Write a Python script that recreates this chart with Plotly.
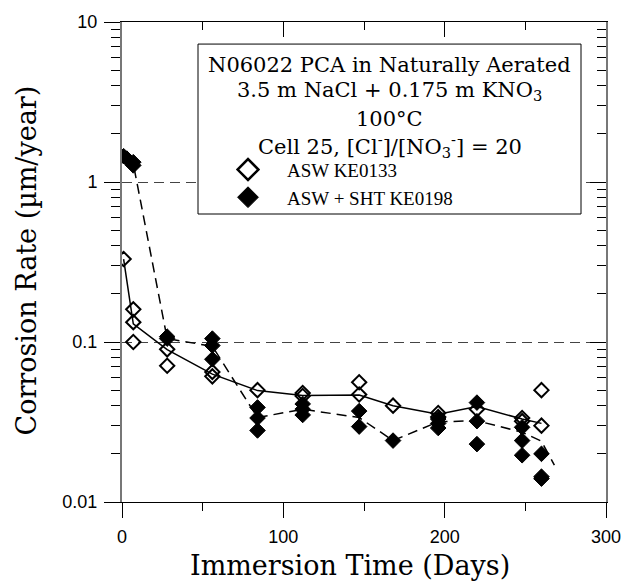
import plotly.graph_objects as go

# ---- data ----
open_days = [1, 7, 7, 7, 28, 28, 56, 56, 84, 112, 112, 147, 147, 168, 196, 196, 220, 248, 248, 260, 260]
open_vals = [0.33, 0.16, 0.133, 0.10, 0.090, 0.071, 0.065, 0.061, 0.050, 0.048, 0.046, 0.056, 0.047,
             0.040, 0.036, 0.034, 0.038, 0.0335, 0.032, 0.050, 0.030]

filled_days = [1, 3, 7, 7, 28, 28, 56, 56, 56, 84, 84, 84, 112, 112, 112, 147, 147, 168,
               196, 196, 196, 220, 220, 220, 248, 248, 248, 260, 260, 260]
filled_vals = [1.45, 1.40, 1.33, 1.27, 0.105, 0.108, 0.105, 0.095, 0.078, 0.039, 0.0335, 0.028,
               0.041, 0.038, 0.035, 0.037, 0.0296, 0.0242, 0.033, 0.031, 0.029, 0.0418, 0.032, 0.023,
               0.0293, 0.0242, 0.0196, 0.020, 0.0144, 0.014]

solid_days = [1, 7, 28, 56, 84, 112, 147, 168, 196, 220, 248, 260]
solid_vals = [0.33, 0.13, 0.0895, 0.063, 0.0497, 0.0463, 0.0466, 0.040, 0.0354, 0.0395, 0.033, 0.031]

dash_days = [1, 7, 28, 56, 84, 112, 147, 168, 196, 220, 248, 260, 268]
dash_vals = [1.42, 1.30, 0.105, 0.094, 0.0337, 0.038, 0.0337, 0.0242, 0.0317, 0.0322, 0.0273, 0.024, 0.017]

x_ticks = [0, 100, 200, 300]
x_minor = [50, 150, 250]
y_ticks = [0.01, 0.1, 1, 10]
y_ticktext = ["0.01", "0.1", "1", "10"]
y_minor = [m * d for d in (0.01, 0.1, 1) for m in range(2, 10)]

name_open = "ASW KE0133"
name_filled = "ASW + SHT KE0198"
x_title = "Immersion Time (Days)"
y_title = "Corrosion Rate (\u00b5m/year)"
box_lines = [
    "N06022 PCA in Naturally Aerated",
    "3.5 m NaCl + 0.175 m KNO<sub>3</sub>",
    "100°C",
    "Cell 25, [Cl<sup>-</sup>]/[NO<sub>3</sub><sup>-</sup>] = 20",
]

# plot area in pixels
L, R, T, B = 122, 606, 17, 502
W, H = R - L, B - T


def px_x(p):
    return (p - L) / W


def px_y(p):
    return 1 - (p - T) / H


fig = go.Figure()
fig.add_trace(go.Scatter(x=solid_days, y=solid_vals, mode="lines",
                         line=dict(color="black", width=1.5), showlegend=False))
fig.add_trace(go.Scatter(x=dash_days, y=dash_vals, mode="lines",
                         line=dict(color="black", width=1.5, dash="10px,6px"), showlegend=False))
fig.add_trace(go.Scatter(x=open_days, y=open_vals, mode="markers",
                         marker=dict(symbol="diamond-open", size=11, color="black",
                                     line=dict(width=2, color="black")), showlegend=False))
fig.add_trace(go.Scatter(x=filled_days, y=filled_vals, mode="markers",
                         marker=dict(symbol="diamond", size=12, color="black",
                                     line=dict(width=1, color="black")), showlegend=False))
# legend entries (on the mirror axes so those are drawn)
pad = "\u00a0" * 4
fig.add_trace(go.Scatter(x=[None], y=[None], mode="markers", name=pad + name_open,
                         xaxis="x2", yaxis="y2",
                         marker=dict(symbol="diamond-open", size=16, color="black",
                                     line=dict(width=2.5, color="black"))))
fig.add_trace(go.Scatter(x=[None], y=[None], mode="markers", name=pad + name_filled,
                         xaxis="x2", yaxis="y2",
                         marker=dict(symbol="diamond", size=16, color="black",
                                     line=dict(width=1, color="black"))))

tickfont = dict(family="Liberation Sans", size=18, color="black")
fig.update_layout(
    width=636, height=584,
    margin=dict(l=L, r=636 - R, t=T, b=584 - B),
    paper_bgcolor="white", plot_bgcolor="white",
    xaxis=dict(range=[0, 300], tickmode="array", tickvals=x_ticks, ticks="outside", ticklen=15,
               tickwidth=1, tickcolor="black", showline=True, linecolor="black", linewidth=1,
               showgrid=False, zeroline=False, tickfont=tickfont, ticklabelstandoff=3,
               minor=dict(tickmode="array", tickvals=x_minor, ticks="outside", ticklen=8,
                          tickcolor="black", showgrid=False)),
    xaxis2=dict(range=[0, 300], overlaying="x", side="top", tickmode="array", tickvals=x_ticks,
                ticks="inside", ticklen=15, tickcolor="black", showticklabels=False,
                showline=True, linecolor="black", linewidth=1, showgrid=False, zeroline=False,
                minor=dict(tickmode="array", tickvals=x_minor, ticks="inside", ticklen=8,
                           tickcolor="black", showgrid=False)),
    yaxis=dict(type="log", range=[-2, 1], tickmode="array", tickvals=y_ticks, ticktext=y_ticktext,
               ticks="outside", ticklen=16, tickwidth=1, tickcolor="black",
               showline=True, linecolor="#777777", linewidth=2,
               showgrid=True, gridcolor="#444444", gridwidth=1, griddash="10px,6px",
               zeroline=False, tickfont=tickfont, ticklabelstandoff=3,
               minor=dict(tickmode="array", tickvals=y_minor, ticks="outside", ticklen=9,
                          tickcolor="black", showgrid=False)),
    yaxis2=dict(type="log", range=[-2, 1], overlaying="y", side="right", tickmode="array",
                tickvals=y_ticks, ticks="inside", ticklen=16, tickcolor="black",
                showticklabels=False, showline=True, linecolor="#777777", linewidth=1.5,
                showgrid=False, zeroline=False,
                minor=dict(tickmode="array", tickvals=y_minor, ticks="inside", ticklen=9,
                           tickcolor="black", showgrid=False)),
    legend=dict(x=px_x(228), y=px_y(147), xanchor="left", yanchor="top",
                bgcolor="rgba(0,0,0,0)", borderwidth=0,
                font=dict(family="Liberation Serif", size=19, color="black"),
                tracegroupgap=0, itemsizing="trace"),
    showlegend=True,
)

# legend box
fig.add_shape(type="rect", xref="paper", yref="paper",
              x0=px_x(198), x1=px_x(581), y0=px_y(211), y1=px_y(39.3),
              line=dict(color="black", width=1), fillcolor="white", layer="above")

line_px = [60, 87, 115, 142]
for txt, py in zip(box_lines, line_px):
    fig.add_annotation(text=txt, xref="paper", yref="paper",
                       x=px_x(389.5), y=px_y(py),
                       xanchor="center", yanchor="middle", showarrow=False,
                       font=dict(family="DejaVu Serif", size=21, color="black"))

# axis titles
fig.add_annotation(text=x_title, xref="paper", yref="paper", x=px_x(350), y=px_y(566),
                   xanchor="center", yanchor="middle", showarrow=False,
                   font=dict(family="DejaVu Serif", size=27, color="black"))
fig.add_annotation(text=y_title, xref="paper", yref="paper", x=px_x(27), y=px_y(258),
                   xanchor="center", yanchor="middle", showarrow=False, textangle=-90,
                   font=dict(family="DejaVu Serif", size=27, color="black"))

fig.write_html("out.html")
